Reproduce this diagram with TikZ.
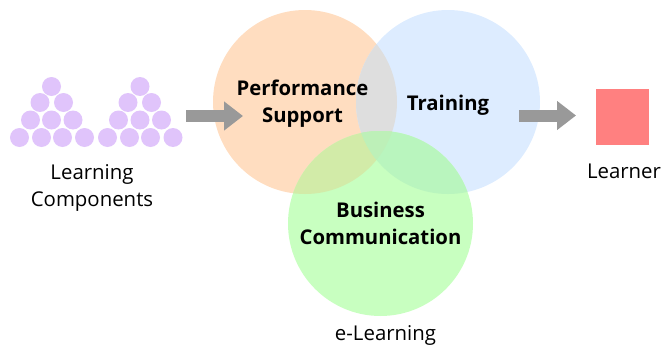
\documentclass[tikz,border=0pt]{standalone}
\usepackage{fontspec}
\setmainfont{Open Sans}
\usetikzlibrary{arrows.meta}
\definecolor{palette1}{HTML}{E0C4FB}
\definecolor{palette2}{HTML}{FFDDC0}
\definecolor{palette3}{HTML}{DDECFF}
\definecolor{palette4}{HTML}{C8FFC0}
\definecolor{palette5}{HTML}{FF8080}
\definecolor{palette6}{HTML}{999999}
\definecolor{overlap1}{HTML}{DEDEDE}
\definecolor{overlap2}{HTML}{D2EBA8}
\definecolor{overlap3}{HTML}{B9F5BE}
\definecolor{overlap4}{HTML}{BDF0B8}
\tikzset{
  dot/.style = {circle, fill = palette1, inner sep = 0, minimum size = 0.38cm},
  venn/.style = {circle, inner sep = 0, minimum size = 3.68cm},
  label text/.style = {align = center, font = \fontsize{11.6}{15.3}\selectfont},
  venn text/.style = {align = center, font = \fontsize{11.55}{15.3}\selectfont\bfseries},
  block arrow/.style = {line width = 0.24cm, color = palette6, -{Triangle[length = 0.38cm, width = 0.56cm]}}
}

\begin{document}
\begin{tikzpicture}

\useasboundingbox (0,0) rectangle (13.24, 6.92);

\begin{scope}[xshift = 0cm]
\foreach \x/\y [count = \i] in {1.03/5.19, 0.80/4.87, 1.27/4.87, 0.61/4.52, 1.03/4.52, 1.46/4.52, 0.39/4.17, 0.83/4.17, 1.25/4.17, 1.69/4.17}
  \node[dot] (a\i) at (\x, \y) {};
\end{scope}

\begin{scope}[xshift = 1.77cm]
\foreach \x/\y [count = \i] in {1.03/5.19, 0.79/4.87, 1.26/4.87, 0.60/4.52, 1.03/4.52, 1.46/4.52, 0.38/4.17, 0.82/4.17, 1.24/4.17, 1.69/4.17}
  \node[dot] (b\i) at (\x, \y) {};
\end{scope}

\node[label text] (components) at (1.84, 3.16) {Learning\\Components};

% the three circles
\node[venn, fill = palette2] (performance) at (6.10, 4.88) {};
\node[venn, fill = palette3] (training) at (8.96, 4.88) {};
\node[venn, fill = palette4, minimum size = 3.70cm] (business) at (7.61, 2.45) {};

\begin{scope}
\clip (6.10, 4.88) circle (1.84);
\fill[color = overlap1] (8.96, 4.88) circle (1.84);
\fill[color = overlap2] (7.61, 2.45) circle (1.85);
\end{scope}
\begin{scope}
\clip (8.96, 4.88) circle (1.84);
\fill[color = overlap3] (7.61, 2.45) circle (1.85);
\clip (6.10, 4.88) circle (1.84);
\fill[color = overlap4] (7.61, 2.45) circle (1.85);
\end{scope}

\node[venn text] (performance text) at (6.05, 4.84) {Performance\\Support};
\node[venn text] (training text) at (8.96, 4.82) {Training};
\node[venn text] (business text) at (7.61, 2.46) {Business\\Communication};

\coordinate (left tail) at (3.72, 4.60);
\coordinate (left head) at (4.86, 4.60);
\draw[block arrow] (left tail) -- (left head);

\coordinate (right tail) at (10.38, 4.61);
\coordinate (right head) at (11.52, 4.61);
\draw[block arrow] (right tail) -- (right head);

\node[fill = palette5, inner sep = 0, minimum width = 1.07cm, minimum height = 1.12cm] (learner) at (12.45, 4.59) {};
\node[label text] (learner text) at (12.48, 3.50) {Learner};
\node[label text] (elearning) at (7.71, 0.21) {e-Learning};

\end{tikzpicture}
\end{document}
